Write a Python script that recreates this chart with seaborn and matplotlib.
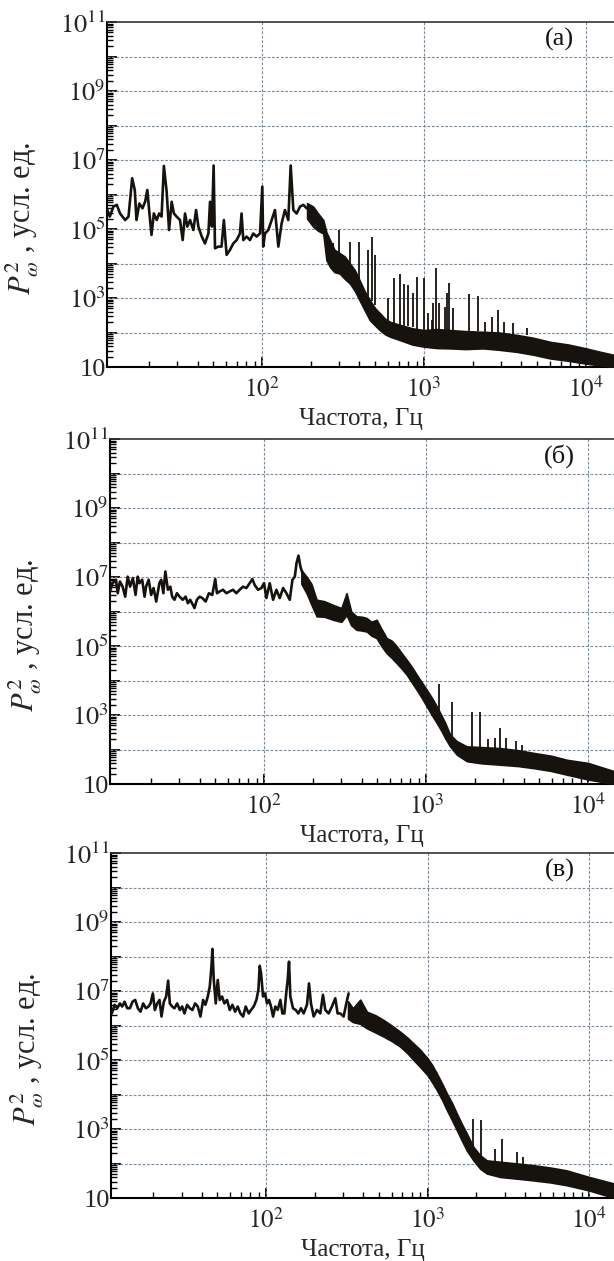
import numpy as np
import matplotlib
matplotlib.use("Agg")
import matplotlib.pyplot as plt
import seaborn as sns
from matplotlib.ticker import FixedLocator, LogLocator, FuncFormatter, NullFormatter

# ---------------- data (frequencies in Hz, powers as log10 of P^2) ----------------
# Panel (а)
a_line_f = [11.1, 11.5, 12.1, 12.7, 13.3, 14.3, 15.0, 15.8, 16.4, 16.8,
            17.5, 18.3, 19.0, 19.6, 20.2, 20.8, 21.5, 22.4, 23.2, 24.0,
            24.8, 25.8, 26.7, 27.7, 28.6, 29.7, 31.2, 32.4, 33.5, 34.6,
            36.0, 37.7, 39.2, 40.5, 42.5, 44.5, 46.7, 47.8, 49.1, 50.3,
            51.3, 53.7, 56.3, 58.2, 60.5, 63.4, 66.5, 69.8, 73.1, 74.8,
            76.7, 80.4, 84.3, 88.4, 92.7, 97.3, 100.5, 101.8, 104.4, 109.4,
            114.8, 120.3, 126.2, 132.2, 138.6, 145.4, 150.4, 156.2, 163.7, 171.8,
            180.0, 188.8, 197.8]
a_line_lp = [5.55, 5.36, 5.65, 5.7, 5.45, 5.26, 5.36, 6.47, 6.13, 5.26,
             5.74, 5.6, 5.79, 6.13, 5.45, 4.83, 5.45, 5.26, 5.45, 5.36,
             6.83, 6.08, 4.97, 5.79, 5.45, 5.36, 5.26, 4.68, 5.45, 5.07,
             5.26, 4.97, 5.55, 5.07, 4.78, 4.58, 4.87, 5.79, 5.07, 6.84,
             4.44, 4.49, 4.49, 5.26, 4.25, 4.39, 4.58, 4.68, 4.87, 5.45,
             4.68, 4.78, 4.68, 4.87, 4.78, 4.87, 6.23, 4.49, 4.87, 4.97,
             5.26, 5.55, 4.49, 5.16, 5.55, 5.26, 6.84, 5.55, 5.45, 5.65,
             5.7, 5.6, 5.65]
a_band_f = [190, 207, 222, 239, 250, 263, 280, 302, 325, 349, 375, 400, 430, 463,
            500, 534, 575, 617, 711, 850, 1000, 1200, 1450, 1800, 2324, 2900,
            3733, 4700, 6000, 7800, 10000, 12000, 14900]
a_band_up = [5.75, 5.65, 5.45, 5.26, 4.9, 4.68, 4.4, 4.3, 4.2, 4.0, 3.8, 3.52, 3.2, 2.94,
             2.7, 2.56, 2.4, 2.31, 2.22, 2.12, 2.07, 2.1, 2.07, 2.04, 2.02, 2.0,
             1.93, 1.85, 1.73, 1.65, 1.54, 1.45, 1.35]
a_band_lo = [5.3, 5.07, 4.95, 4.87, 4.1, 3.9, 3.75, 3.71, 3.55, 3.42, 3.2, 2.94, 2.65, 2.36,
             2.2, 2.07, 1.95, 1.88, 1.78, 1.65, 1.59, 1.55, 1.54, 1.52, 1.54, 1.5,
             1.44, 1.36, 1.25, 1.18, 1.1, 1.05, 1.0]
a_spk_f = [276, 300, 349, 398, 453, 475, 500, 597, 650, 711,
           753, 800, 859, 901, 1000, 1054, 1116, 1142, 1186, 1243,
           1348, 1393, 1432, 1503, 1905, 2148, 2380, 2617, 2877, 3119,
           3559, 4305]
a_spk_top = [4.58, 4.97, 4.63, 4.63, 4.39, 4.78, 4.25, 2.99, 3.57, 3.71,
             3.42, 3.38, 3.14, 3.62, 3.57, 2.56, 2.36, 2.85, 3.86, 2.85,
             2.75, 3.14, 3.44, 2.7, 3.12, 3.07, 2.31, 2.46, 2.65, 2.31,
             2.27, 2.12]
a_spk_base = [4.3, 4.2, 4.0, 3.5, 3.0, 2.9, 2.8, 2.3, 2.25, 2.2,
              2.2, 2.2, 2.15, 2.1, 2.07, 2.07, 2.07, 2.07, 2.07, 2.07,
              2.07, 2.07, 2.07, 2.07, 2.03, 2.03, 2.02, 2.02, 2.0, 2.0,
              1.95, 1.93]

# Panel (б)
b_line_f = [11.1, 11.6, 12.2, 12.5, 12.9, 13.4, 13.9, 14.4, 14.9, 15.5,
            16.1, 16.6, 17.0, 17.7, 18.3, 18.7, 19.4, 20.1, 20.8, 21.6,
            22.6, 23.2, 23.9, 24.6, 25.5, 26.4, 27.1, 28.0, 29.0, 30.1,
            31.5, 32.8, 33.9, 35.0, 36.4, 37.2, 38.5, 40.0, 41.6, 43.6,
            45.7, 47.9, 50.0, 51.2, 53.2, 55.8, 58.5, 61.3, 64.3, 67.4,
            70.7, 74.1, 77.8, 81.5, 84.7, 87.5, 91.8, 96.3, 100.0, 103.4,
            108.4, 113.7, 119.2, 125.0, 131.1, 137.4, 144.1, 149.7, 154.9, 158.6,
            163.1, 167.7, 172.6]
b_line_lp = [6.53, 6.82, 6.92, 6.53, 6.87, 6.72, 6.43, 7.01, 6.72, 6.97,
             6.48, 7.01, 6.82, 6.92, 6.43, 6.72, 6.92, 6.48, 6.68, 6.29,
             6.82, 6.92, 6.53, 7.16, 6.63, 6.72, 6.43, 6.34, 6.53, 6.43,
             6.34, 6.43, 6.24, 6.34, 6.19, 6.1, 6.34, 6.43, 6.39, 6.29,
             6.53, 6.48, 6.94, 6.53, 6.58, 6.63, 6.53, 6.58, 6.63, 6.53,
             6.63, 6.72, 6.68, 6.82, 6.94, 6.77, 6.63, 6.68, 6.82, 6.39,
             6.82, 6.34, 6.63, 6.39, 6.68, 6.53, 6.34, 6.92, 7.01, 7.4,
             7.62, 7.3, 7.11]
b_band_f = [170, 183, 196, 211, 235, 267, 300, 323, 345, 372, 400, 430, 460, 495, 530,
            571, 615, 659, 705, 759, 815, 875, 940, 1009, 1085, 1164, 1240, 1312, 1407,
            1548, 1786, 2200, 2871, 3700, 4617, 5900, 7420, 10000, 14500]
b_band_up = [7.2, 7.01, 6.8, 6.34, 6.3, 6.19, 6.1, 6.53, 6.0, 5.86, 5.85, 5.81, 5.7, 5.76, 5.5,
             5.23, 5.15, 4.99, 4.8, 4.6, 4.4, 4.17, 3.95, 3.73, 3.5, 3.25, 3.0, 2.77, 2.43,
             2.24, 2.09, 2.07, 2.04, 1.98, 1.9, 1.82, 1.7, 1.61, 1.37]
b_band_lo = [6.8, 6.53, 6.2, 5.86, 5.85, 5.76, 5.7, 5.9, 5.6, 5.47, 5.45, 5.42, 5.3, 5.23, 5.0,
             4.79, 4.65, 4.5, 4.35, 4.17, 3.95, 3.73, 3.5, 3.25, 3.0, 2.77, 2.55, 2.33, 2.09,
             1.85, 1.66, 1.6, 1.56, 1.52, 1.46, 1.38, 1.27, 1.13, 1.0]
b_spk_f = [1208, 1442, 1914, 2157, 2405, 2646, 2871, 3126, 3605, 3906]
b_spk_top = [3.91, 3.39, 3.1, 3.08, 2.3, 2.33, 2.62, 2.33, 2.24, 2.14]
b_spk_base = [3.0, 2.3, 2.08, 2.07, 2.05, 2.05, 2.04, 2.0, 1.95, 1.93]

# Panel (в)
c_line_f = [11.1, 11.53, 11.98, 12.44, 12.86, 13.30, 13.81, 14.35, 14.90, 15.48,
            16.08, 16.70, 17.35, 18.02, 18.72, 19.26, 19.91, 20.48, 21.18, 21.89,
            22.52, 23.28, 24.07, 24.76, 25.36, 26.22, 27.10, 28.15, 29.24, 30.23,
            31.25, 32.46, 33.72, 35.03, 36.38, 37.79, 39.25, 40.77, 42.15, 43.58,
            44.83, 45.91, 46.56, 47.46, 48.83, 50.23, 51.68, 53.42, 55.23, 57.37,
            59.59, 61.90, 64.30, 66.79, 69.37, 72.06, 74.85, 78.13, 80.76, 83.89,
            87.14, 89.67, 91.39, 93.13, 95.81, 98.58, 101.4, 104.4, 107.4, 110.5,
            114.2, 118.1, 122.7, 126.2, 129.9, 133.6, 136.1, 138.8, 141.4, 146.9,
            152.6, 158.5, 164.6, 171.0, 179.3, 184.5, 189.8, 197.2, 206.8, 216.8,
            225.2, 232.8, 244.1, 256.0, 268.5, 277.5, 288.4, 302.4, 314.1, 324.6]
c_line_lp = [6.35, 6.6, 6.5, 6.64, 6.55, 6.69, 6.5, 6.5, 6.69, 6.74,
             6.5, 6.4, 6.64, 6.5, 6.55, 6.64, 6.93, 6.45, 6.64, 6.74,
             6.26, 6.69, 6.84, 7.3, 6.64, 6.55, 6.5, 6.64, 6.45, 6.55,
             6.35, 6.6, 6.5, 6.45, 6.64, 6.55, 6.26, 6.74, 6.6, 6.84,
             7.13, 7.71, 8.22, 7.32, 6.64, 7.32, 6.74, 6.84, 6.64, 6.74,
             6.45, 6.6, 6.4, 6.55, 6.35, 6.26, 6.55, 6.35, 6.45, 6.55,
             6.74, 7.03, 7.73, 7.52, 6.84, 6.93, 6.64, 6.74, 6.55, 6.26,
             6.55, 6.45, 6.74, 6.35, 6.35, 6.98, 7.32, 7.85, 6.84, 6.5,
             6.45, 6.35, 6.5, 6.35, 6.6, 7.22, 6.64, 6.26, 6.45, 6.35,
             6.89, 6.45, 6.35, 6.55, 6.79, 6.35, 6.35, 6.26, 6.64, 6.93]
c_band_f = [322, 345, 383, 421, 475, 534, 600, 677, 750, 819, 900, 1000, 1070, 1142,
            1230, 1318, 1420, 1518, 1630, 1750, 1926, 2118, 2330, 2818, 3600, 4530,
            5800, 7280, 10000, 14300]
c_band_up = [6.7, 6.5, 6.75, 6.4, 6.3, 6.16, 6.0, 5.82, 5.65, 5.48, 5.3, 5.05, 4.85, 4.61,
             4.32, 4.03, 3.75, 3.45, 3.15, 2.87, 2.48, 2.24, 2.09, 2.05, 2.0, 1.95,
             1.88, 1.8, 1.61, 1.42]
c_band_lo = [6.2, 6.1, 6.05, 5.92, 5.8, 5.68, 5.55, 5.39, 5.2, 5.0, 4.8, 4.56, 4.35, 4.13,
             3.85, 3.55, 3.25, 2.97, 2.67, 2.38, 2.09, 1.85, 1.71, 1.61, 1.56, 1.51,
             1.45, 1.37, 1.22, 1.0]
c_spk_f = [1906, 2147, 2623, 2909, 3574, 3892]
c_spk_top = [3.3, 3.26, 2.43, 2.72, 2.34, 2.19]
c_spk_base = [2.5, 2.2, 2.05, 2.05, 1.97, 1.95]

panel_labels = ["(а)", "(б)", "(в)"]
x_label = "Частота, Гц"
y_label = r"$P^{2}_{\omega}$ , усл. ед."
y_tick_exps = [1, 3, 5, 7, 9, 11]
x_tick_exps = [2, 3, 4]

# ---------------- style ----------------
sns.set_style("ticks")
plt.rcParams["font.family"] = ["Liberation Serif", "DejaVu Serif"]
plt.rcParams["mathtext.fontset"] = "stix"

INK = "#16120e"
GRID = "#7d8b99"

fig = plt.figure(figsize=(6.14, 12.61), dpi=100)
positions = [
    [0.17427, 0.70896, 0.82573, 0.27359],
    [0.17915, 0.37827, 0.82085, 0.27359],
    [0.18078, 0.04996, 0.81922, 0.27359],
]
xlims = [(11.05, 14900), (11.2, 14450), (10.96, 14290)]

panels = [
    (a_line_f, a_line_lp, a_band_f, a_band_up, a_band_lo, a_spk_f, a_spk_top, a_spk_base),
    (b_line_f, b_line_lp, b_band_f, b_band_up, b_band_lo, b_spk_f, b_spk_top, b_spk_base),
    (c_line_f, c_line_lp, c_band_f, c_band_up, c_band_lo, c_spk_f, c_spk_top, c_spk_base),
]


def ytick_fmt(v, pos):
    e = int(round(np.log10(v)))
    if e not in y_tick_exps:
        return ""
    if e == 1:
        return "10"
    return r"$10^{%d}$" % e


def xtick_fmt(v, pos):
    e = int(round(np.log10(v)))
    return r"$10^{%d}$" % e


for i, (lf, lp, bf, bu, bl, sf, st, sb) in enumerate(panels):
    ax = fig.add_axes(positions[i])
    ax.set_xscale("log")
    ax.set_yscale("log")
    ax.set_xlim(*xlims[i])
    ax.set_ylim(10, 1e11)

    # grid
    for e in range(2, 11):
        ax.axhline(10.0 ** e, color=GRID, lw=0.8, ls=(0, (2.5, 1.5)), zorder=1)
    for e in x_tick_exps:
        ax.axvline(10.0 ** e, color=GRID, lw=0.8, ls=(0, (2.5, 1.5)), zorder=1)

    # noisy high-frequency band
    ax.fill_between(bf, 10.0 ** np.array(bu), 10.0 ** np.array(bl),
                    color=INK, lw=1.2, edgecolor=INK, zorder=3)
    # main line
    sns.lineplot(x=lf, y=10.0 ** np.array(lp), ax=ax, color=INK, lw=1.9,
                 estimator=None, sort=False, zorder=4)
    # narrow harmonic spikes
    ax.vlines(sf, 10.0 ** np.array(sb), 10.0 ** np.array(st), color=INK, lw=1.3, zorder=4)

    # ticks
    ax.yaxis.set_major_locator(FixedLocator([10.0 ** e for e in range(1, 12)]))
    ax.yaxis.set_major_formatter(FuncFormatter(ytick_fmt))
    ax.yaxis.set_minor_locator(LogLocator(base=10, subs=np.arange(2, 10), numticks=30))
    ax.yaxis.set_minor_formatter(NullFormatter())
    ax.xaxis.set_major_locator(FixedLocator([10.0 ** e for e in x_tick_exps]))
    ax.xaxis.set_major_formatter(FuncFormatter(xtick_fmt))
    ax.xaxis.set_minor_locator(LogLocator(base=10, subs=np.arange(2, 10), numticks=30))
    ax.xaxis.set_minor_formatter(NullFormatter())
    ax.tick_params(axis="both", which="major", direction="in", length=7, width=1.3,
                   color="black", right=False, top=False)
    ax.tick_params(axis="both", which="minor", direction="in", length=4, width=1.0,
                   color="black", right=False, top=False)
    ax.tick_params(axis="y", which="major", pad=1, labelsize=19)
    ax.tick_params(axis="x", which="major", pad=7, labelsize=18)

    for s in ["left", "bottom"]:
        ax.spines[s].set_linewidth(1.5)
        ax.spines[s].set_color("black")
    ax.spines["top"].set_linewidth(1.2)
    ax.spines["top"].set_color("#333333")
    ax.spines["right"].set_visible(False)

    ax.set_xlabel(x_label, fontsize=18, labelpad=0)
    ax.set_ylabel(y_label, fontsize=22)
    ax.xaxis.set_label_coords(0.5, -0.118)
    ax.yaxis.set_label_coords(-0.13, 0.43)

    ax.text(0.922, 0.95, panel_labels[i], transform=ax.transAxes, ha="right",
            va="center", fontsize=19, color=INK, zorder=5)

fig.savefig("out.png", dpi=100)
